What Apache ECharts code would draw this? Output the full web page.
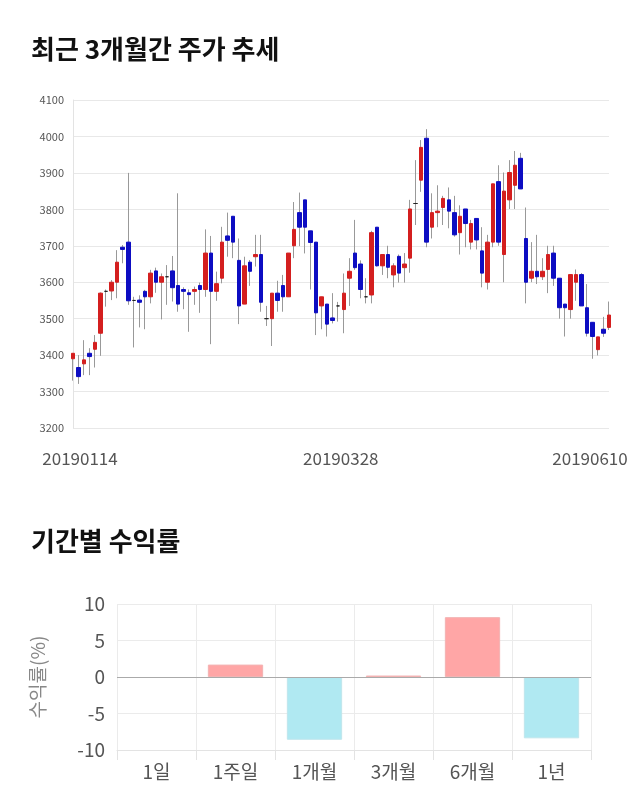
<!DOCTYPE html>
<html>
<head>
<meta charset="utf-8">
<script src="https://cdn.jsdelivr.net/npm/echarts@6/dist/echarts.min.js"></script>
<style>
html,body{margin:0;padding:0;background:#fff;}
#c{width:640px;height:810px;}
</style>
</head>
<body>
<div id="c"></div>
<script>
const dates = [
'20190114','20190115','20190116','20190117','20190118','20190121','20190122','20190123','20190124','20190125',
'20190128','20190129','20190130','20190131','20190201','20190207','20190208','20190211','20190212','20190213',
'20190214','20190215','20190218','20190219','20190220','20190221','20190222','20190225','20190226','20190227',
'20190228','20190304','20190305','20190306','20190307','20190308','20190311','20190312','20190313','20190314',
'20190315','20190318','20190319','20190320','20190321','20190322','20190325','20190326','20190327','20190328',
'20190329','20190401','20190402','20190403','20190404','20190405','20190408','20190409','20190410','20190411',
'20190412','20190415','20190416','20190417','20190418','20190419','20190422','20190423','20190424','20190425',
'20190426','20190429','20190430','20190503','20190507','20190508','20190509','20190510','20190513','20190514',
'20190515','20190516','20190517','20190520','20190521','20190522','20190523','20190524','20190527','20190528',
'20190529','20190530','20190531','20190603','20190604','20190605','20190607','20190610'
];
const openP = [3390,3366,3376,3405,3416,3460,3575,3576,3600,3696,3710,3550,3551,3575,3560,3631,3600,3615,3631,3591,
3580,3571,3575,3591,3580,3680,3575,3611,3727,3781,3660,3540,3655,3670,3676,3500,3500,3570,3591,3560,
3700,3791,3826,3741,3710,3535,3540,3502,3535,3525,3611,3680,3650,3560,3565,3751,3645,3676,3620,3671,
3640,3666,3816,3880,3995,3751,3791,3805,3826,3791,3736,3801,3710,3775,3686,3600,3710,3876,3676,3826,
3866,3940,3720,3611,3630,3615,3635,3680,3611,3540,3525,3600,3621,3530,3490,3415,3471,3476];
const closeP = [3405,3341,3387,3396,3435,3570,3575,3600,3655,3690,3549,3550,3545,3560,3625,3600,3615,3615,3585,3540,
3575,3566,3580,3580,3680,3575,3596,3710,3715,3710,3535,3645,3630,3676,3545,3500,3570,3550,3560,3680,
3745,3751,3751,3709,3516,3560,3485,3495,3535,3570,3630,3640,3580,3560,3736,3645,3676,3641,3645,3625,
3650,3801,3816,3970,3710,3791,3795,3830,3795,3730,3781,3761,3761,3716,3625,3710,3870,3710,3850,3901,
3921,3856,3600,3630,3615,3630,3676,3611,3530,3530,3621,3621,3535,3460,3451,3450,3460,3510];
const lowP = [3330,3321,3345,3345,3366,3398,3533,3551,3556,3652,3538,3421,3476,3471,3542,3571,3498,3538,3547,3519,
3526,3464,3538,3516,3560,3430,3549,3597,3670,3666,3485,3540,3590,3643,3519,3480,3425,3519,3519,3560,
3666,3699,3679,3580,3455,3471,3451,3487,3492,3460,3535,3634,3556,3542,3542,3643,3620,3611,3586,3599,
3599,3626,3757,3848,3696,3720,3751,3757,3748,3725,3676,3696,3690,3690,3586,3580,3696,3700,3600,3801,
3801,3856,3542,3600,3595,3606,3570,3590,3500,3451,3500,3549,3535,3451,3390,3399,3450,3469];
const highP = [3405,3400,3441,3419,3455,3572,3580,3606,3688,3702,3900,3560,3564,3579,3634,3640,3624,3647,3672,3844,
3586,3580,3588,3599,3745,3727,3629,3752,3791,3781,3720,3670,3661,3730,3730,3535,3570,3604,3620,3680,
3820,3846,3826,3741,3710,3560,3540,3570,3546,3624,3666,3771,3660,3611,3741,3751,3676,3700,3652,3676,
3680,3826,3935,3990,4020,3844,3866,3837,3860,3837,3811,3801,3771,3775,3751,3730,3870,3921,3901,3935,
3960,3955,3805,3710,3730,3666,3700,3700,3611,3540,3621,3635,3625,3595,3490,3450,3505,3547];
const priceTicks = {min: 3200, max: 4100, step: 100};
const periods = ['1일','1주일','1개월','3개월','6개월','1년'];
const returns = [0, 1.7, -8.6, 0.2, 8.2, -8.4];
const returnTicks = {min: -10, max: 10, step: 5};

const FONT = "'Noto Sans CJK KR','Noto Sans',sans-serif";
const shownIdx = [0, 49, dates.length - 1];

const wickData = dates.map((d, i) => [openP[i], closeP[i], lowP[i], highP[i]]);
const bodyData = dates.map((d, i) => [openP[i], closeP[i], Math.min(openP[i], closeP[i]), Math.max(openP[i], closeP[i])]);
const barData = returns.map(v => ({
  value: v,
  itemStyle: v > 0 ? {color: '#ffa6a6', borderColor: '#f3b3b3', borderWidth: 1}
           : v < 0 ? {color: '#b0e9f2', borderColor: '#bfe6ec', borderWidth: 1}
           : {color: 'rgba(0,0,0,0)', borderWidth: 0}
}));

const chart = echarts.init(document.getElementById('c'), null, {renderer: 'canvas'});
chart.setOption({
  animation: false,
  backgroundColor: '#fff',
  textStyle: {fontFamily: FONT},
  title: [
    {text: '최근 3개월간 주가 추세', left: 31, top: 36, padding: 0,
     textStyle: {fontSize: 26, fontWeight: 'bold', color: '#111', fontFamily: FONT}},
    {text: '기간별 수익률', left: 31, top: 528, padding: 0,
     textStyle: {fontSize: 26, fontWeight: 'bold', color: '#111', fontFamily: FONT}}
  ],
  grid: [
    {left: 73, right: 31, top: 100, bottom: 382},
    {left: 117, right: 49, top: 604, bottom: 60}
  ],
  xAxis: [
    {type: 'category', gridIndex: 0, data: dates, boundaryGap: false,
     axisLine: {show: false}, axisTick: {show: false}, splitLine: {show: false},
     axisLabel: {
       interval: (idx) => shownIdx.indexOf(idx) >= 0,
       margin: 22, fontSize: 17, color: '#555', fontFamily: FONT,
       formatter: (v, idx) => idx === 0 ? '{a|' + v + '}' : (idx === dates.length - 1 ? '{c|' + v + '}' : '{b|' + v + '}'),
       rich: {
         a: {fontSize: 17, color: '#555', fontFamily: FONT, padding: [0, 0, 0, 14]},
         b: {fontSize: 17, color: '#555', fontFamily: FONT, padding: [0, 6, 0, 0]},
         c: {fontSize: 17, color: '#555', fontFamily: FONT, padding: [0, 38, 0, 0]}
       }
     }},
    {type: 'category', gridIndex: 1, data: periods,
     axisLine: {show: true, onZero: false, lineStyle: {color: '#e3e3e3'}},
     axisTick: {show: true, length: 10, lineStyle: {color: '#e3e3e3'}},
     splitLine: {show: true, lineStyle: {color: '#ebebeb'}},
     axisLabel: {fontSize: 19, color: '#555', margin: 12, fontFamily: FONT}}
  ],
  yAxis: [
    {type: 'value', gridIndex: 0, min: priceTicks.min, max: priceTicks.max, interval: priceTicks.step,
     axisLine: {show: true, lineStyle: {color: '#e3e3e3'}}, axisTick: {show: false},
     splitLine: {lineStyle: {color: '#e8e8e8'}},
     axisLabel: {fontSize: 11, color: '#555', margin: 9, fontFamily: FONT, formatter: (v) => String(v)}},
    {type: 'value', gridIndex: 1, min: returnTicks.min, max: returnTicks.max, interval: returnTicks.step,
     name: '수익률(%)', nameLocation: 'middle', nameGap: 70,
     nameTextStyle: {fontSize: 19, color: '#888', fontFamily: FONT},
     axisLine: {show: false}, axisTick: {show: false},
     splitLine: {lineStyle: {color: '#ebebeb'}},
     axisLabel: {fontSize: 19, color: '#555', margin: 12, fontFamily: FONT}}
  ],
  series: [
    {type: 'candlestick', xAxisIndex: 0, yAxisIndex: 0, data: wickData, barWidth: 1,
     itemStyle: {color: '#999', color0: '#999', borderColor: '#999', borderColor0: '#999', borderColorDoji: '#999', borderWidth: 1}},
    {type: 'candlestick', xAxisIndex: 0, yAxisIndex: 0, data: bodyData, barWidth: 4,
     itemStyle: {color: '#d41f1f', color0: '#0d0dc2', borderColor: '#d41f1f', borderColor0: '#0d0dc2', borderColorDoji: '#222', borderWidth: 1}},
    {type: 'bar', xAxisIndex: 1, yAxisIndex: 1, data: barData, barWidth: '70%',
     markLine: {silent: true, symbol: 'none', label: {show: false},
       lineStyle: {color: '#aaa', type: 'solid', width: 1}, data: [{yAxis: 0}]}}
  ]
});
</script>
</body>
</html>
